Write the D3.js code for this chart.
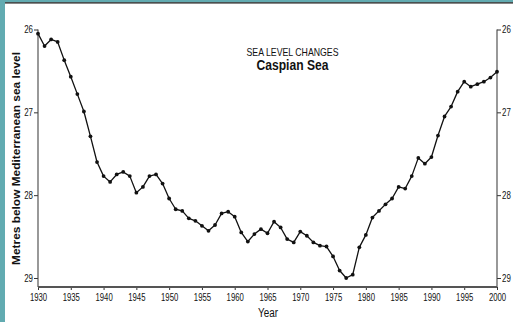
<!DOCTYPE html>
<html>
<head>
<meta charset="utf-8">
<script src="https://cdn.jsdelivr.net/npm/d3@7"></script>
<style>
  html, body { margin: 0; padding: 0; background: #fff; overflow: hidden; }
  svg { display: block; }
  .narrow { font-family: "Liberation Sans Narrow", "Arial Narrow", "Liberation Sans", sans-serif; }
</style>
</head>
<body>
<svg id="chart" width="513" height="322"></svg>
<script>
const years = [1930,1931,1932,1933,1934,1935,1936,1937,1938,1939,
               1940,1941,1942,1943,1944,1945,1946,1947,1948,1949,
               1950,1951,1952,1953,1954,1955,1956,1957,1958,1959,
               1960,1961,1962,1963,1964,1965,1966,1967,1968,1969,
               1970,1971,1972,1973,1974,1975,1976,1977,1978,1979,
               1980,1981,1982,1983,1984,1985,1986,1987,1988,1989,
               1990,1991,1992,1993,1994,1995,1996,1997,1998,1999,2000];
const levels = [26.05,26.20,26.12,26.15,26.37,26.57,26.78,26.99,27.29,27.60,
                27.77,27.84,27.75,27.72,27.77,27.97,27.90,27.77,27.75,27.86,
                28.04,28.17,28.19,28.28,28.31,28.37,28.43,28.36,28.22,28.20,
                28.26,28.45,28.56,28.47,28.41,28.46,28.32,28.39,28.53,28.57,
                28.44,28.49,28.57,28.61,28.62,28.74,28.91,29.00,28.96,28.63,
                28.48,28.27,28.19,28.11,28.04,27.90,27.92,27.77,27.55,27.62,
                27.54,27.28,27.05,26.93,26.75,26.63,26.69,26.66,26.63,26.58,26.51];
const xTicks = [1930,1935,1940,1945,1950,1955,1960,1965,1970,1975,1980,1985,1990,1995,2000];
const yTicks = [26,27,28,29];
const titleLine1 = "SEA LEVEL CHANGES";
const titleLine2 = "Caspian Sea";
const xTitle = "Year";
const yTitle = "Metres below Mediterranean sea level";

const data = years.map((yr, i) => ({ year: yr, level: levels[i] }));

const svg = d3.select("#chart");

// frame decoration (teal border from the source slide)
svg.append("rect").attr("x", 0).attr("y", 0).attr("width", 513).attr("height", 2.3).attr("fill", "#62abb1");
svg.append("rect").attr("x", 0).attr("y", 0).attr("width", 5).attr("height", 322).attr("fill", "#62abb1");
svg.append("rect").attr("x", 5).attr("y", 2.3).attr("width", 508).attr("height", 1.2).attr("fill", "#111");

const x = d3.scaleLinear().domain([1930, 2000]).range([38, 497]);
const y = d3.scaleLinear().domain([26, 29]).range([29.5, 278]);
const axisBottomY = 287;

function squeeze(sel, perChar) {
  sel.each(function () {
    const t = d3.select(this);
    t.attr("textLength", t.text().length * perChar).attr("lengthAdjust", "spacingAndGlyphs");
  });
}

// x axis
const gx = svg.append("g").attr("class", "narrow")
  .attr("transform", `translate(0,${axisBottomY})`)
  .call(d3.axisBottom(x).tickValues(xTicks).tickFormat(d3.format("d")).tickSize(3).tickSizeOuter(0));
gx.select(".domain").remove();
gx.selectAll(".tick line").attr("stroke", "#333");
gx.selectAll(".tick text").attr("font-size", 10.5).attr("fill", "#111").attr("dy", "0.95em").attr("y", 4)
  .call(squeeze, 4.3);

// left axis
const gl = svg.append("g").attr("class", "narrow")
  .attr("transform", `translate(${x(1930)},0)`)
  .call(d3.axisLeft(y).tickValues(yTicks).tickFormat(d3.format("d")).tickSize(4).tickSizeOuter(0));
gl.select(".domain").remove();
gl.selectAll(".tick line").attr("stroke", "#333");
gl.selectAll(".tick text").attr("font-size", 10.5).attr("fill", "#111").attr("x", -5).call(squeeze, 4.4);

// right axis
const gr = svg.append("g").attr("class", "narrow")
  .attr("transform", `translate(${x(2000)},0)`)
  .call(d3.axisRight(y).tickValues(yTicks).tickFormat(d3.format("d")).tickSize(4).tickSizeOuter(0));
gr.select(".domain").remove();
gr.selectAll(".tick line").attr("stroke", "#333");
gr.selectAll(".tick text").attr("font-size", 10.5).attr("fill", "#111").attr("x", 5).call(squeeze, 4.4);

// axis lines
svg.append("line").attr("x1", x(1930)).attr("x2", x(1930)).attr("y1", y(26)).attr("y2", axisBottomY)
  .attr("stroke", "#444").attr("stroke-width", 1.1);
svg.append("line").attr("x1", x(2000)).attr("x2", x(2000)).attr("y1", y(26)).attr("y2", axisBottomY)
  .attr("stroke", "#444").attr("stroke-width", 1.1);
svg.append("line").attr("x1", x(1930)).attr("x2", x(2000)).attr("y1", axisBottomY).attr("y2", axisBottomY)
  .attr("stroke", "#555").attr("stroke-width", 1.8);

// line
svg.append("path").datum(data)
  .attr("fill", "none").attr("stroke", "#111").attr("stroke-width", 1.3)
  .attr("stroke-linejoin", "round")
  .attr("d", d3.line().x(d => x(d.year)).y(d => y(d.level)));

// points
svg.append("g").selectAll("circle").data(data).join("circle")
  .attr("cx", d => x(d.year)).attr("cy", d => y(d.level)).attr("r", 1.9).attr("fill", "#111");

// titles
svg.append("text").attr("class", "narrow").attr("x", 292.5).attr("y", 55.5)
  .attr("text-anchor", "middle").attr("font-size", 11.5).attr("fill", "#111")
  .attr("textLength", 92).attr("lengthAdjust", "spacingAndGlyphs").text(titleLine1);
svg.append("text").attr("class", "narrow").attr("x", 292.5).attr("y", 70)
  .attr("text-anchor", "middle").attr("font-size", 14.5).attr("font-weight", "bold").attr("fill", "#111")
  .attr("textLength", 72).attr("lengthAdjust", "spacingAndGlyphs").text(titleLine2);

svg.append("text").attr("class", "narrow").attr("x", 268).attr("y", 317)
  .attr("text-anchor", "middle").attr("font-size", 12.5).attr("fill", "#111")
  .attr("textLength", 20).attr("lengthAdjust", "spacingAndGlyphs").text(xTitle);

svg.append("text")
  .attr("transform", "translate(19.5,158.5) rotate(-90)")
  .attr("text-anchor", "middle")
  .attr("font-family", "'Liberation Sans', Arial, sans-serif")
  .attr("font-size", 11.5).attr("font-weight", "bold").attr("fill", "#111")
  .attr("textLength", 213).attr("lengthAdjust", "spacingAndGlyphs").text(yTitle);
</script>
</body>
</html>
